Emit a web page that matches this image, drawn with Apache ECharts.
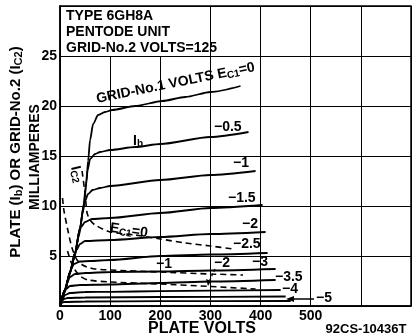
<!DOCTYPE html>
<html><head><meta charset="utf-8">
<script src="https://cdn.jsdelivr.net/npm/echarts@6/dist/echarts.min.js"></script>
<style>html,body{margin:0;padding:0;background:#fff}#c{width:414px;height:335px}</style>
</head><body><div id="c"></div>
<script>
// ---- data (plate volts, milliamperes) ----
const xTickLabels = ['0','100','200','300','400','500'];
const yTickLabels = ['5','10','15','20','25'];
const gridVolts = [0, -0.5, -1, -1.5, -2, -2.5, -3, -3.5, -4, -4.5, -5];

const ib_0    = [[0,0],[10,1.6],[20,3.4],[30,5.3],[40,7.8],[48,10.3],[53,12.5],[56,14.5],[60,16.6],[66,18.2],[76,19.1],[90,19.4],[104,19.6],[150,20.0],[204,20.5],[250,20.9],[300,21.4],[360,22.0]];
const ib_m05  = [[0,0],[10,1.6],[20,3.4],[30,5.3],[40,7.8],[47,10.0],[51,11.8],[55,13.6],[60,14.7],[70,15.2],[80,15.4],[100,15.6],[150,15.9],[200,16.2],[300,16.9],[376,17.4]];
const ib_m1   = [[0,0],[10,1.6],[20,3.4],[30,5.3],[40,7.8],[45,9.3],[50,10.5],[56,11.2],[65,11.6],[80,11.8],[100,12.0],[200,12.6],[300,13.1],[390,13.5]];
const ib_m15  = [[0,0],[10,1.6],[20,3.3],[30,5.2],[36,6.8],[42,7.9],[50,8.4],[64,8.7],[100,8.8],[200,9.3],[300,9.8],[404,10.1]];
const ib_m2   = [[0,0],[10,1.6],[20,3.3],[27,4.6],[33,5.6],[40,6.2],[50,6.5],[100,6.6],[200,6.9],[300,7.2],[410,7.4]];
const ib_m25  = [[0,0],[10,1.6],[17,2.8],[22,3.7],[28,4.2],[40,4.45],[60,4.5],[100,4.6],[200,5.0],[300,5.15],[414,5.3]];
const ib_m3   = [[0,0],[8,1.3],[14,2.3],[20,2.9],[30,3.2],[50,3.3],[100,3.4],[200,3.45],[300,3.55],[430,3.7]];
const ib_m35  = [[0,0],[6,1.0],[12,1.7],[20,2.0],[40,2.1],[100,2.15],[200,2.3],[300,2.45],[430,2.6]];
const ib_m4   = [[0,0],[5,0.7],[10,1.1],[20,1.3],[50,1.4],[100,1.42],[200,1.48],[300,1.53],[440,1.6]];
const ib_m45  = [[0,0],[4,0.5],[8,0.7],[15,0.8],[50,0.85],[200,0.9],[450,0.95]];
const ib_m5   = [[0,0],[3,0.3],[8,0.4],[50,0.45],[200,0.48],[460,0.5]];

const ic2_0   = [[44,13.5],[50,11.2],[54,9.3],[60,8.6],[70,8.1],[100,7.4],[150,7.1],[200,6.7],[250,6.3],[300,6.0],[345,5.7]];
const ic2_m1  = [[5,10.8],[8,9.5],[16,7.5],[24,5.8],[34,4.6],[45,4.1],[54,3.9],[70,3.7],[100,3.6],[200,3.4],[300,3.2],[365,3.1]];
const ic2_m2  = [[15,5.5],[22,4.4],[30,3.6],[40,3.0],[56,2.6],[100,2.4],[200,2.2],[300,1.95],[390,1.7]];

const plateCurves = [ib_0, ib_m05, ib_m1, ib_m15, ib_m2, ib_m25, ib_m3, ib_m35, ib_m4, ib_m45, ib_m5];
const screenCurves = [ic2_0, ic2_m1, ic2_m2];

// ---- chart ----
const FONT = "'Liberation Sans', Arial, sans-serif";
const chart = echarts.init(document.getElementById('c'), null, {renderer:'canvas'});
const series = [];
plateCurves.forEach((d,i)=>series.push({
  type:'line', data:d, showSymbol:false, smooth:0.25, smoothMonotone:'x',
  lineStyle:{color:'#000', width:1.8}, silent:true, z:3
}));
screenCurves.forEach((d,i)=>series.push({
  type:'line', data:d, showSymbol:false, smooth:0.25,
  lineStyle:{color:'#000', width:1.6, type:[6,4]}, silent:true, z:3
}));

function t(text, x, y, opts){
  opts = opts||{};
  return {type:'text', x:x, y:y, rotation:opts.rot||0, z:120,
    style:{text:text, x:0, y:0, fill:'#000', font:(opts.weight||'bold')+' '+(opts.size||14)+'px '+FONT,
      align:opts.align||'left', verticalAlign:opts.va||'middle', rich:opts.rich}};
}
const sub = {s:{fontSize:10, fontWeight:'bold', fontFamily:FONT, padding:[6,0,0,0]}};
const subBig = {s:{fontSize:11, fontWeight:'bold', fontFamily:FONT, padding:[6,0,0,0]}};

const graphic = [
  {type:'rect', shape:{x:61, y:7, width:148, height:49}, style:{fill:'#fff'}, z:110},
  t('TYPE 6GH8A', 66, 16),
  t('PENTODE UNIT', 66, 32),
  t('GRID-No.2 VOLTS=125', 66, 48),
  t('GRID-No.1 VOLTS E{s|C1}=0', 98, 107, {rot:0.2, va:'bottom', rich:sub}),
  t('I{s|b}', 133, 141, {rich:sub}),
  t('−0.5', 214, 127),
  t('−1', 233, 163),
  t('−1.5', 228, 198),
  t('−2', 242, 224),
  t('−2.5', 233, 244),
  t('−3', 252, 262),
  t('−3.5', 275, 277),
  t('−4', 282, 289),
  t('−5', 316, 298),
  t('E{s|C1}=0', 110, 228, {rot:-0.14, rich:sub}),
  t('−1', 156, 264),
  t('−2', 214, 263),
  t('I{s|C2}', 67, 168, {rot:-1.35, va:'bottom', rich:sub}),
  t('PLATE (I{s|b}) OR GRID-No.2 (I{s|C2})', 16, 152, {rot:Math.PI/2, align:'center', rich:subBig, size:15}),
  t('MILLIAMPERES', 35, 157, {rot:Math.PI/2, align:'center', size:14}),
  t('PLATE VOLTS', 202, 329, {align:'center', size:16}),
  t('92CS-10436T', 366, 329, {align:'center', size:13}),
  {type:'line', shape:{x1:314, y1:299, x2:292, y2:299}, style:{stroke:'#000', lineWidth:1.5}, z:120},
  {type:'polygon', shape:{points:[[286,299],[294,296],[294,302]]}, style:{fill:'#000'}, z:120},
  {type:'line', shape:{x1:215, y1:269, x2:209, y2:282}, style:{stroke:'#000', lineWidth:1.3, lineDash:[3,2]}, z:120},
  {type:'polygon', shape:{points:[[208,286],[206,279],[211,281]]}, style:{fill:'#000'}, z:120}
];

chart.setOption({
  animation:false,
  backgroundColor:'#fff',
  grid:{left:60, right:3, top:6, bottom:29, show:true, borderColor:'#000', borderWidth:1.5, outerBoundsMode:'none'},
  xAxis:{type:'value', min:0, max:700, interval:100,
    axisLine:{show:true, onZero:false, lineStyle:{color:'#000', width:1.5}},
    axisTick:{show:false},
    splitLine:{show:true, lineStyle:{color:'#000', width:1}},
    axisLabel:{color:'#000', fontFamily:FONT, fontWeight:'bold', fontSize:14, margin:3,
      formatter:(v)=>{const s=String(v); return xTickLabels.indexOf(s)>=0 ? s : '';}}
  },
  yAxis:{type:'value', min:0, max:30, interval:5,
    axisLine:{show:true, onZero:false, lineStyle:{color:'#000', width:1.5}},
    axisTick:{show:false},
    splitLine:{show:true, lineStyle:{color:'#000', width:1}},
    axisLabel:{color:'#000', fontFamily:FONT, fontWeight:'bold', fontSize:14, margin:3,
      formatter:(v)=>{const s=String(Math.round(v)); return yTickLabels.indexOf(s)>=0 ? s : '';}}
  },
  series:series,
  graphic:graphic
});
</script></body></html>
